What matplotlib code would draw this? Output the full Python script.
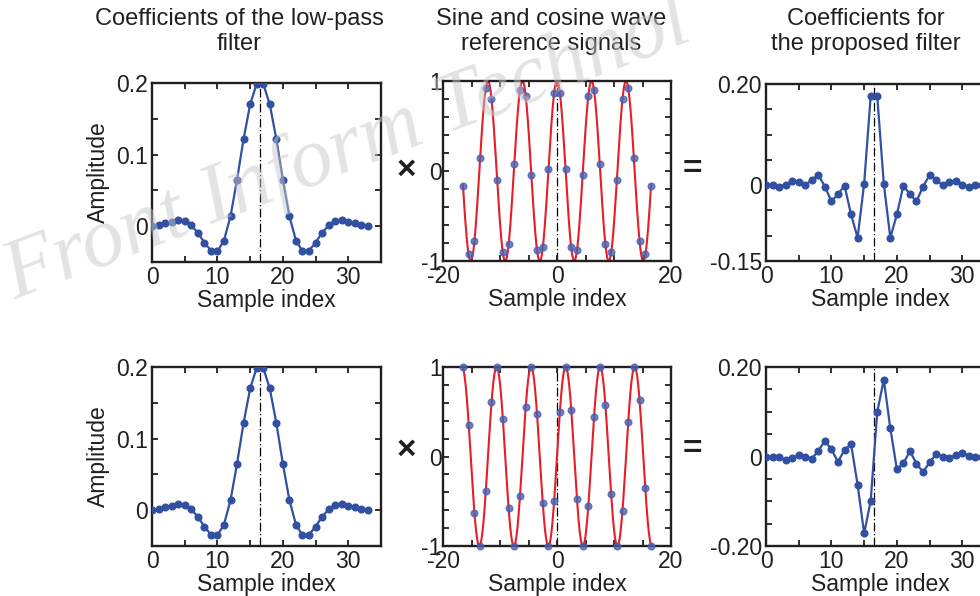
import numpy as np
import matplotlib
matplotlib.use("Agg")
import matplotlib.pyplot as plt
from matplotlib.ticker import FixedLocator, FixedFormatter, MultipleLocator

plt.rcParams['font.family'] = ['Liberation Sans', 'DejaVu Sans']
plt.rcParams['axes.unicode_minus'] = False

# ---------------- data ----------------
sample_index = list(range(34))
ref_time = [i - 16.5 for i in range(34)]

lowpass = [0.0, 0.0014, 0.004, 0.0065, 0.009, 0.0075, 0.001, -0.009, -0.023, -0.034,
           -0.035, -0.020, 0.014, 0.065, 0.122, 0.170, 0.199,
           0.199, 0.170, 0.122, 0.065, 0.014, -0.020, -0.035, -0.034, -0.023,
           -0.009, 0.001, 0.0075, 0.009, 0.0065, 0.004, 0.0014, 0.0]

cos_samples = [-0.165, -0.926, -0.774, 0.150, 0.926, 0.800, -0.102, -0.904, -0.811, 0.080,
               0.900, 0.837, -0.046, -0.881, -0.844, 0.017, 0.870,
               0.870, 0.017, -0.844, -0.881, -0.046, 0.837, 0.900, 0.080, -0.811,
               -0.904, -0.102, 0.800, 0.926, 0.150, -0.774, -0.926, -0.165]

sin_samples = [1.0, 0.353, -0.626, -1.0, -0.385, 0.604, 1.0, 0.417, -0.581, -1.0,
               -0.445, 0.551, 1.0, 0.477, -0.523, -1.0, -0.497,
               0.497, 1.0, 0.523, -0.477, -1.0, -0.551, 0.445, 1.0, 0.581,
               -0.417, -1.0, -0.604, 0.385, 1.0, 0.626, -0.353, -1.0]

proposed_cos = [0.0, -0.0007, -0.003, 0.001, 0.008, 0.006, -0.0007, 0.011, 0.020, -0.003,
                -0.032, -0.018, -0.001, -0.058, -0.104, 0.003, 0.176,
                0.176, 0.003, -0.104, -0.058, -0.001, -0.018, -0.032, -0.003, 0.020,
                0.011, -0.0007, 0.006, 0.008, 0.001, -0.003, -0.0007, 0.0]

proposed_sin = [0.0, 0.0, -0.002, -0.007, -0.004, 0.004, 0.0, -0.005, 0.013, 0.035,
                0.016, -0.012, 0.015, 0.028, -0.063, -0.172, -0.099,
                0.099, 0.172, 0.063, -0.028, -0.015, 0.012, -0.016, -0.035, -0.013,
                0.005, 0.0, -0.004, 0.004, 0.007, 0.002, 0.0, 0.0]

wave_period = 6.055          # samples per cycle of the reference wave (read)
wave_span = (-16.5, 16.5)

titles = ["Coefficients of the low-pass\nfilter",
          "Sine and cosine wave\nreference signals",
          "Coefficients for\nthe proposed filter"]

# ---------------- styling ----------------
W, H = 980, 596
fig = plt.figure(figsize=(W / 100, H / 100), dpi=100)
FS = 16.5
BLUE = '#3150a2'
RED = '#e61e28'
SPINE = '#231f20'


def px_axes(x0, y0, x1, y1):
    return fig.add_axes([x0 / W, 1 - y1 / H, (x1 - x0) / W, (y1 - y0) / H])


def style(ax):
    for s in ax.spines.values():
        s.set_linewidth(1.7)
        s.set_color(SPINE)
    ax.tick_params(which='both', direction='in', top=True, right=True,
                   length=4, width=1.3, color=SPINE, labelsize=FS, pad=3,
                   labelcolor=SPINE)


def vline(ax, x):
    ax.axvline(x, color='black', lw=0.9, ls=(0, (7, 2, 1, 2)), zorder=1)


def left_panel(ax):
    vline(ax, 16.5)
    ax.plot(sample_index, lowpass, '-o', color=BLUE, lw=1.6, ms=4.8, zorder=3)
    ax.set_xlim(0, 35)
    ax.set_ylim(-0.05, 0.2)
    ax.xaxis.set_major_locator(FixedLocator([0, 10, 20, 30]))
    ax.xaxis.set_minor_locator(MultipleLocator(5))
    ax.yaxis.set_major_locator(FixedLocator([0, 0.1, 0.2]))
    ax.yaxis.set_major_formatter(FixedFormatter(['0', '0.1', '0.2']))
    ax.yaxis.set_minor_locator(FixedLocator([-0.05, 0.05, 0.15]))
    style(ax)
    ax.set_xlabel('Sample index', fontsize=FS, labelpad=0, color=SPINE)
    ax.set_ylabel('Amplitude', fontsize=FS, labelpad=4, color=SPINE)


def mid_panel(ax, samples, kind):
    vline(ax, 0)
    t = np.linspace(wave_span[0], wave_span[1], 800)
    if kind == 'cos':
        curve = np.cos(2 * np.pi * t / wave_period)
    else:
        curve = np.sin(2 * np.pi * t / wave_period)
    ax.plot(t, curve, color=RED, lw=1.5, zorder=2)
    ax.plot(ref_time, samples, 'o', color='#4a62b2', alpha=0.8, ms=4.8, zorder=3,
            clip_on=False)
    ax.set_xlim(-20, 20)
    ax.set_ylim(-1, 1)
    ax.xaxis.set_major_locator(FixedLocator([-20, 0, 20]))
    ax.xaxis.set_minor_locator(MultipleLocator(5))
    ax.yaxis.set_major_locator(FixedLocator([-1, 0, 1]))
    ax.yaxis.set_major_formatter(FixedFormatter(['-1', '0', '1']))
    ax.yaxis.set_minor_locator(MultipleLocator(0.2))
    style(ax)
    ax.tick_params(axis='y', pad=1)
    ax.set_xlabel('Sample index', fontsize=FS, labelpad=0, color=SPINE)


def right_panel(ax, values, lo, labels):
    vline(ax, 16.5)
    ax.plot(sample_index, values, '-o', color=BLUE, lw=1.6, ms=4.8, zorder=3)
    ax.set_xlim(0, 35)
    ax.set_ylim(lo, 0.2)
    ax.xaxis.set_major_locator(FixedLocator([0, 10, 20, 30]))
    ax.xaxis.set_minor_locator(MultipleLocator(5))
    ax.yaxis.set_major_locator(FixedLocator([lo, 0, 0.2]))
    ax.yaxis.set_major_formatter(FixedFormatter(labels))
    ax.yaxis.set_minor_locator(MultipleLocator(0.05))
    style(ax)
    ax.set_xlabel('Sample index', fontsize=FS, labelpad=0, color=SPINE)


# top row
a1 = px_axes(152, 83, 381, 262)
a2 = px_axes(443, 81, 671, 261)
a3 = px_axes(766, 84, 995, 261)
# bottom row
b1 = px_axes(152, 367, 381, 546)
b2 = px_axes(443, 367, 671, 546)
b3 = px_axes(766, 367, 995, 546)

left_panel(a1)
left_panel(b1)
mid_panel(a2, cos_samples, 'cos')
mid_panel(b2, sin_samples, 'sin')
right_panel(a3, proposed_cos, -0.15, ['-0.15', '0', '0.20'])
right_panel(b3, proposed_sin, -0.20, ['-0.20', '0', '0.20'])

# titles
for xc, txt in zip([239, 551, 866], titles):
    fig.text(xc / W, 1 - 8 / H, txt, ha='center', va='top', fontsize=17,
             linespacing=1.15, color=SPINE)

# operators
for yc in [170, 450]:
    fig.text(406 / W, 1 - yc / H, '×', ha='center', va='center',
             fontsize=24, fontweight='bold', color=SPINE)
    fig.text(692 / W, 1 - yc / H, '=', ha='center', va='center',
             fontsize=24, fontweight='bold', color=SPINE)

# watermark
fig.text(15 / W, 1 - 300 / H, 'Front Inform Technol', fontsize=61,
         family=['Liberation Serif', 'DejaVu Serif'], style='italic',
         color='#c8c8c8', alpha=0.5, rotation=21, rotation_mode='anchor',
         ha='left', va='baseline', zorder=10)

fig.savefig('out.png', dpi=100)
